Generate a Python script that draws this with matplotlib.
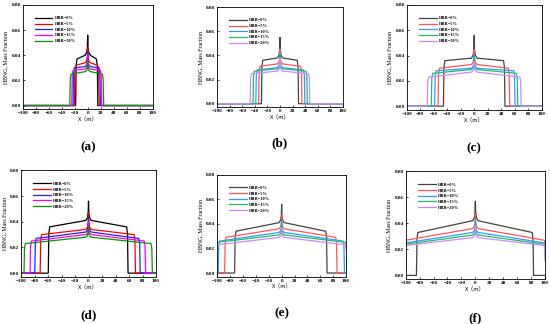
import numpy as np
from matplotlib import pyplot as plt

plt.rcParams['font.family'] = ['Liberation Serif', 'DejaVu Serif']
plt.rcParams['font.weight'] = 'bold'

labels = ['HBR=0%', 'HBR=5%', 'HBR=10%', 'HBR=15%', 'HBR=20%']
panel_names = ['(a)', '(b)', '(c)', '(d)', '(e)', '(f)']

# left / right edge of each cloud (m)
left_a = [-18, -20, -22, -24, -27]
right_a = [15, 17, 19, 21, 24]
left_b = [-29, -33.5, -38, -42.5, -47]
right_b = [29, 34.5, 39, 43, 47]
left_c = [-45, -53, -58, -63, -69]
right_c = [45, 52, 60, 64, 69]
left_d = [-59, -71, -79, -86, -95]
right_d = [58, 69, 76, 84, 94]
left_e = [-72.5, -88, -98, -100, -100]
right_e = [70, 85.5, 97, 100, 100]
left_f = [-84, -100, -100, -100, -100]
right_f = [83, 100, 100, 100, 100]

# mass fraction at edge of plateau, near centre, and peak at x=0
edge_a = [0.037, 0.032, 0.030, 0.028, 0.025]
mid_a = [0.040, 0.034, 0.031, 0.029, 0.027]
peak_a = [0.056, 0.046, 0.042, 0.040, 0.035]
edge_b = [0.036, 0.031, 0.028, 0.027, 0.025]
mid_b = [0.038, 0.033, 0.030, 0.029, 0.027]
peak_b = [0.055, 0.045, 0.042, 0.040, 0.037]
edge_c = [0.036, 0.030, 0.028, 0.026, 0.023]
mid_c = [0.038, 0.033, 0.030, 0.029, 0.027]
peak_c = [0.056, 0.045, 0.041, 0.038, 0.035]
edge_d = [0.036, 0.030, 0.027, 0.025, 0.023]
mid_d = [0.041, 0.034, 0.032, 0.030, 0.028]
peak_d = [0.056, 0.047, 0.043, 0.040, 0.036]
edge_e = [0.034, 0.029, 0.026, 0.025, 0.023]
mid_e = [0.041, 0.036, 0.033, 0.031, 0.029]
peak_e = [0.056, 0.047, 0.043, 0.040, 0.037]
edge_f = [0.033, 0.027, 0.025, 0.024, 0.023]
mid_f = [0.042, 0.036, 0.033, 0.031, 0.029]
peak_f = [0.057, 0.047, 0.043, 0.040, 0.038]
# value reached at x=100 where the cloud touches the boundary
end_e = [0, 0, 0, 0.021, 0.019]
end_f = [0, 0.025, 0.022, 0.021, 0.011]

lefts = [left_a, left_b, left_c, left_d, left_e, left_f]
rights = [right_a, right_b, right_c, right_d, right_e, right_f]
edges = [edge_a, edge_b, edge_c, edge_d, edge_e, edge_f]
mids = [mid_a, mid_b, mid_c, mid_d, mid_e, mid_f]
peaks = [peak_a, peak_b, peak_c, peak_d, peak_e, peak_f]
ends = [None, None, None, None, end_e, end_f]

strong = ['#000000', '#ff0000', '#2222ff', '#ff00ff', '#009900']
soft = ['#444444', '#ff5555', '#3399ff', '#22bb66', '#cc88ff']
colors = [strong, soft, soft, strong, soft, soft]

# axes boxes in pixels: x0, x1, top, bottom
boxes = [(22.7, 152.7, 5, 109.3), (217.3, 342.7, 7.3, 107.3),
         (406.7, 541.7, 5, 110), (21, 156, 170.3, 277),
         (217.3, 346, 174.7, 276.7), (405.7, 545, 171.3, 279.3)]
W, H = 550, 324


def profile(L, R, e, m, p, end):
    xs, ys = [], []
    if L > -100:
        xs += [-100, L - 0.6, L + 0.2, L + 1.5]
        ys += [0, 0, e * 0.85, e]
    else:
        xs += [-100]
        ys += [e]
    xs += [-4, -1.5, -0.5, 0, 0.5, 1.5, 4]
    ys += [m, m + (p - m) * 0.15, m + (p - m) * 0.4, p,
           m + (p - m) * 0.4, m + (p - m) * 0.15, m]
    if R < 100:
        xs += [R - 1.5, R - 0.2, R + 0.6, 100]
        ys += [e, e * 0.85, 0, 0]
    else:
        xs += [99, 100]
        ys += [e, end if end else e]
    return xs, ys


fig = plt.figure(figsize=(5.5, 3.24), dpi=100)
for k in range(6):
    x0, x1, t, b = boxes[k]
    ax = fig.add_axes([x0 / W, 1 - b / H, (x1 - x0) / W, (b - t) / H])
    for i in range(5):
        end = ends[k][i] if ends[k] else None
        xs, ys = profile(lefts[k][i], rights[k][i], edges[k][i],
                         mids[k][i], peaks[k][i], end)
        ax.plot(xs, ys, color=colors[k][i], lw=0.9, label=labels[i])
    ax.set_xlim(-100, 100)
    ax.set_ylim(-0.003, 0.08)
    ax.set_xticks(np.arange(-100, 101, 20))
    ax.set_yticks([0, 0.02, 0.04, 0.06, 0.08])
    ax.yaxis.set_major_formatter(plt.FormatStrFormatter('%.2f'))
    ax.tick_params(direction='in', length=1.5, width=0.5, labelsize=3.7, pad=1.5)
    for s in ax.spines.values():
        s.set_linewidth(0.6)
    ax.set_xlabel('X（m）', fontsize=4.2, labelpad=1,
                  family=['Noto Sans CJK SC', 'Liberation Serif'])
    ax.set_ylabel('HBNG, Mass Fraction', fontsize=4.2, labelpad=2)
    ax.legend(loc='upper left', bbox_to_anchor=(0.06, 0.93), frameon=False,
              fontsize=3.2, handlelength=4, labelspacing=0.35, handletextpad=0.5)
    ax.text(0.5, -0.36, panel_names[k], transform=ax.transAxes,
            ha='center', va='center', fontsize=9.5, fontweight='bold')

fig.savefig('out.png', dpi=100)
